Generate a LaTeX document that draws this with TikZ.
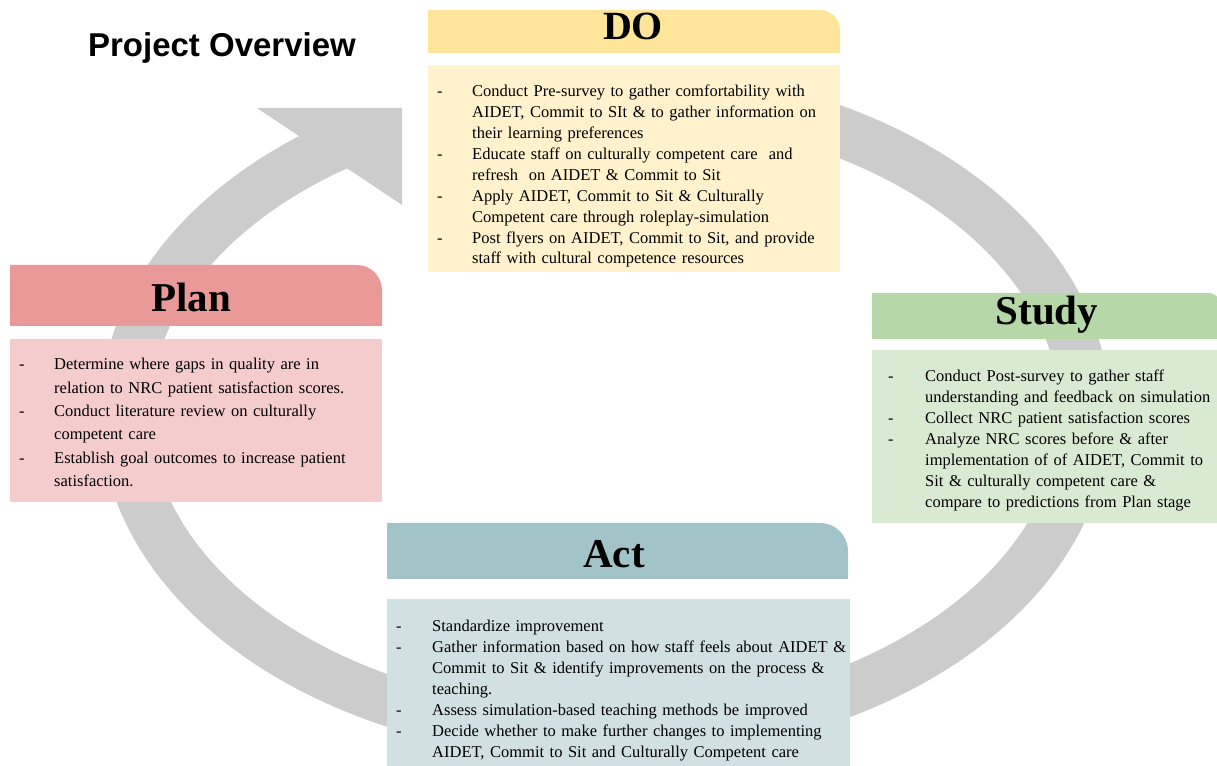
\documentclass[tikz,border=0pt]{standalone}
\usepackage{fontspec}
\setmainfont{Liberation Serif}
\newfontfamily\oversans{Liberation Sans}
\usepackage{xcolor}
\usepackage{tikz}
\usetikzlibrary{positioning}

\definecolor{doyel}{HTML}{FFE599}
\definecolor{doyellt}{HTML}{FFF2CC}
\definecolor{planred}{HTML}{EA9999}
\definecolor{planredlt}{HTML}{F4CCCC}
\definecolor{studygrn}{HTML}{B6D7A8}
\definecolor{studygrnlt}{HTML}{D9EAD3}
\definecolor{actcyan}{HTML}{A2C4C9}
\definecolor{actcyanlt}{HTML}{D0E0E3}
\definecolor{cyclegray}{HTML}{CCCCCC}

\begin{document}
\begin{tikzpicture}[x=1pt, y=1pt,
      ringarc/.style={draw=cyclegray, line width=50pt},
      stage/.style={font=\bfseries\fontsize{41}{48}\selectfont, anchor=base},
      steps/.style={anchor=north west, inner xsep=9pt, inner ysep=0pt, align=left, font=\fontsize{16.5}{20.9}\selectfont}
      ]

    \clip (0,0) rectangle (1217,765);

    % Cycle arrow
    \coordinate (ringc) at (605,352);
    \draw[ringarc] ([shift={(75:480pt and 322.5pt)}]ringc) arc[start angle=75, end angle=-239, x radius=480pt, y radius=322.5pt];
    \fill[cyclegray] (257,657) -- (402,657) -- (402,560) -- cycle;

    % Title
    \node[font=\oversans\bfseries\fontsize{33}{38}\selectfont, anchor=base] (overview) at (222,708) {Project Overview};

    % Headers
    \fill[doyel] (428,712) -- (428,755) -- (820,755) arc[start angle=90, end angle=0, radius=20pt] -- (840,712) -- cycle;
    \fill[planred] (10,439) -- (10,500) -- (357,500) arc[start angle=90, end angle=0, radius=25pt] -- (382,439) -- cycle;
    \fill[studygrn] (872,426) -- (872,472) -- (1208,472) arc[start angle=90, end angle=0, radius=14pt] -- (1222,426) -- cycle;
    \fill[actcyan] (387,186) -- (387,242) -- (820,242) arc[start angle=90, end angle=0, radius=28pt] -- (848,186) -- cycle;

    \node[stage, font=\bfseries\fontsize{40}{48}\selectfont] (do) at (633,725) {DO};
    \node[stage] (plan) at (191,453) {Plan};
    \node[stage] (study) at (1047,440) {Study};
    \node[stage] (act) at (614,197) {Act};

    % Steps
    \node[steps, fill=doyellt, text width=394pt, text height=31.6pt, text depth=175.4pt] (dosteps) at (428,700) {%
      \begin{tabular}[t]{@{}p{35pt}@{}l@{}}
        - & Conduct Pre-survey to gather comfortability with\\
          & AIDET, Commit to SIt \& to gather information on\\
          & their learning preferences\\
        - & Educate staff on culturally competent care~ and\\
          & refresh~ on AIDET \& Commit to Sit\\
        - & Apply AIDET, Commit to Sit \& Culturally\\
          & Competent care through roleplay-simulation\\
        - & Post flyers on AIDET, Commit to Sit, and provide\\
          & staff with cultural competence resources
      \end{tabular}};

    \node[steps, fill=planredlt, text width=354pt, text height=30.6pt, text depth=132.4pt, font=\fontsize{16.5}{23.4}\selectfont] (plansteps) at (10,426) {%
      \begin{tabular}[t]{@{}p{35pt}@{}l@{}}
        - & Determine where gaps in quality are in\\
          & relation to NRC patient satisfaction scores.\\
        - & Conduct literature review on culturally\\
          & competent care\\
        - & Establish goal outcomes to increase patient\\
          & satisfaction.
      \end{tabular}};

    \node[steps, fill=studygrnlt, inner xsep=16pt, text width=326pt, text height=31.6pt, text depth=141.4pt] (studysteps) at (872,415) {%
      \begin{tabular}[t]{@{}p{37pt}@{}l@{}}
        - & Conduct Post-survey to gather staff\\
          & understanding and feedback on simulation\\
        - & Collect NRC patient satisfaction scores\\
        - & Analyze NRC scores before \& after\\
          & implementation of of AIDET, Commit to\\
          & Sit \& culturally competent care \&\\
          & compare to predictions from Plan stage
      \end{tabular}};

    \node[steps, fill=actcyanlt, text width=445pt, text height=32.6pt, text depth=144.4pt] (actsteps) at (387,166) {%
      \begin{tabular}[t]{@{}p{36pt}@{}l@{}}
        - & Standardize improvement\\
        - & Gather information based on how staff feels about AIDET \&\\
          & Commit to Sit \& identify improvements on the process \&\\
          & teaching.\\
        - & Assess simulation-based teaching methods be improved\\
        - & Decide whether to make further changes to implementing\\
          & AIDET, Commit to Sit and Culturally Competent care
      \end{tabular}};

\end{tikzpicture}
\end{document}
